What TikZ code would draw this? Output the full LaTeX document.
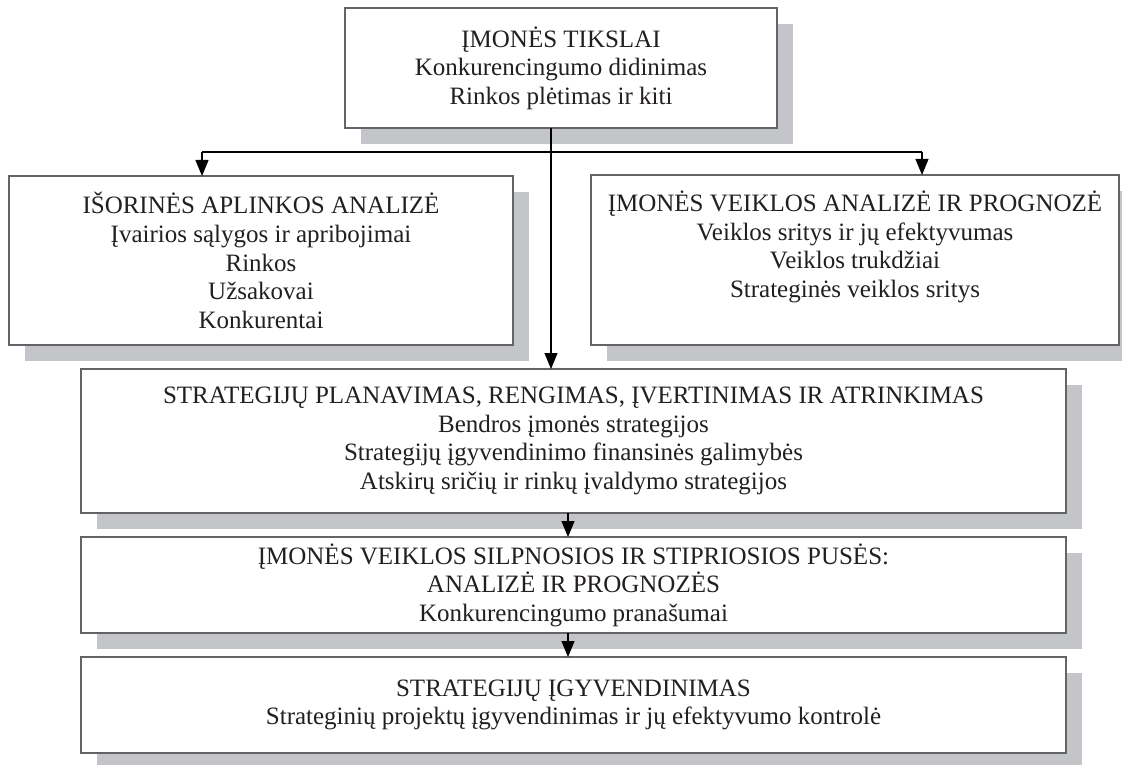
\documentclass[tikz,border=0pt]{standalone}
\usepackage{fontspec}
\setmainfont{Liberation Serif}
\usetikzlibrary{arrows.meta,shadows}
\definecolor{shgray}{RGB}{196,197,200}
\definecolor{bordergray}{RGB}{100,100,102}
\definecolor{txtcol}{RGB}{35,31,32}
\begin{document}
\begin{tikzpicture}[x=1pt,y=-1pt,
  boxtext/.style={inner sep=0pt, outer sep=0pt, align=center,
    font=\fontsize{25}{28.6}\selectfont, text=txtcol},
  box/.style={boxtext, draw=bordergray, line width=1.2pt, fill=white, rectangle,
    anchor=north west,
    drop shadow={shadow xshift=16pt, shadow yshift=-16pt, fill=shgray, opacity=1}},
  conn/.style={draw=black, line width=1.1pt},
  arr/.style={conn, -{Triangle[length=16pt,width=13pt]}}]
\useasboundingbox (0,0) rectangle (1122,765);

\node[box, minimum width=432pt, minimum height=120pt] (top) at (345,8)
  {ĮMONĖS TIKSLAI\\Konkurencingumo didinimas\\Rinkos plėtimas ir kiti};
\node[box, minimum width=504pt, minimum height=169pt] (left) at (9,176)
  {IŠORINĖS APLINKOS ANALIZĖ\\Įvairios sąlygos ir apribojimai\\Rinkos\\Užsakovai\\Konkurentai};
\node[box, minimum width=528pt, minimum height=170pt] (right) at (591,175) {};
\node[boxtext] (righttxt) at ([yshift=13pt]right.center)
  {ĮMONĖS VEIKLOS ANALIZĖ IR PROGNOZĖ\\Veiklos sritys ir jų efektyvumas\\Veiklos trukdžiai\\Strateginės veiklos sritys};
\node[box, minimum width=985pt, minimum height=144pt] (strat) at (81,369)
  {STRATEGIJŲ PLANAVIMAS, RENGIMAS, ĮVERTINIMAS IR ATRINKIMAS\\Bendros įmonės strategijos\\Strategijų įgyvendinimo finansinės galimybės\\Atskirų sričių ir rinkų įvaldymo strategijos};
\node[box, minimum width=985pt, minimum height=96pt] (swot) at (81,537)
  {ĮMONĖS VEIKLOS SILPNOSIOS IR STIPRIOSIOS PUSĖS:\\ANALIZĖ IR PROGNOZĖS\\Konkurencingumo pranašumai};
\node[box, minimum width=985pt, minimum height=96pt] (impl) at (81,657)
  {STRATEGIJŲ ĮGYVENDINIMAS\\Strateginių projektų įgyvendinimas ir jų efektyvumo kontrolė};

\coordinate (j) at (551,152);
\coordinate (lt) at (202,152);
\coordinate (rt) at (922,152);
\coordinate (m) at (568,0);

\draw[arr] (top.south -| j) -- (strat.north -| j);
\draw[conn] (lt) -- (rt);
\draw[arr] (lt) -- (left.north -| lt);
\draw[arr] (rt) -- (right.north -| rt);
\draw[arr] (strat.south -| m) -- (swot.north -| m);
\draw[arr] (swot.south -| m) -- (impl.north -| m);
\end{tikzpicture}
\end{document}
